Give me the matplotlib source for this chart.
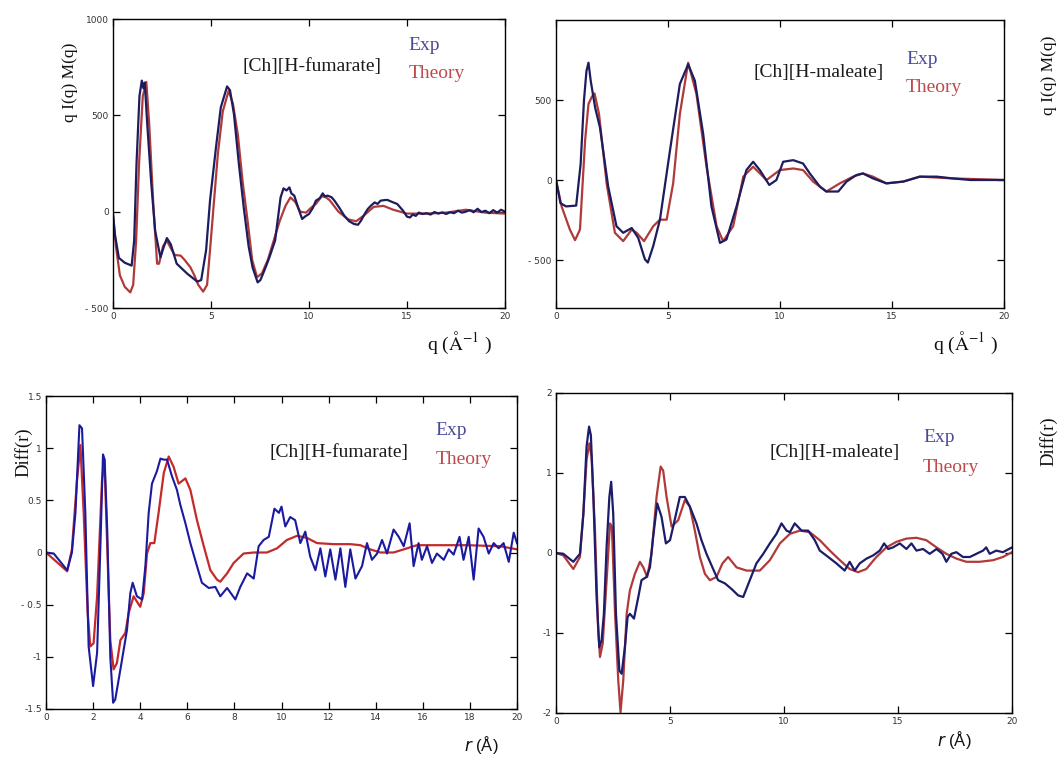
import matplotlib
matplotlib.use("Agg")
import matplotlib.pyplot as plt

# ---------------- data ----------------
# Top-left: [Ch][H-fumarate], q I(q) M(q)
tl_exp_q = [0, 0.1, 0.3, 0.6, 0.95, 1.08, 1.2, 1.35, 1.47, 1.55, 1.62, 1.75, 1.95, 2.15, 2.42, 2.6, 2.75, 2.95, 3.25, 3.8, 4.3, 4.5, 4.75, 4.95, 5.25, 5.5, 5.82, 5.97, 6.17, 6.42, 6.67, 6.92, 7.12, 7.38, 7.52, 7.72, 7.97, 8.27, 8.55, 8.7, 8.85, 9.0, 9.1, 9.25, 9.45, 9.65, 9.8, 10.0, 10.2, 10.35, 10.55, 10.7, 10.8, 10.95, 11.15, 11.3, 11.55, 11.8, 12.05, 12.3, 12.5, 12.65, 12.85, 13.0, 13.15, 13.35, 13.5, 13.65, 13.85, 14.0, 14.25, 14.5, 14.8, 15.0, 15.15, 15.3, 15.45, 15.6, 15.8, 16.0, 16.2, 16.4, 16.6, 16.8, 17.0, 17.2, 17.4, 17.6, 17.8, 18.0, 18.2, 18.4, 18.6, 18.8, 19.0, 19.2, 19.4, 19.6, 19.8, 20.0]
tl_exp_v = [-12, -120, -240, -265, -280, -150, 250, 600, 680, 640, 670, 450, 150, -100, -237, -180, -137, -170, -270, -323, -363, -355, -200, 57, 330, 541, 650, 630, 507, 250, 22, -180, -289, -367, -355, -306, -240, -150, 74, 121, 110, 126, 95, 83, 20, -38, -25, -12, 20, 57, 70, 95, 80, 83, 75, 57, 20, -21, -50, -64, -68, -47, -10, 14, 30, 48, 40, 57, 60, 61, 50, 40, 5, -26, -30, -15, -22, -5, -12, -8, -15, -2, -10, -4, -12, -3, -8, 5, -5, 0, 8, -3, 15, -2, 5, -8, 8, -5, 10, 0]
tl_th_q = [0, 0.15, 0.35, 0.6, 0.88, 1.03, 1.18, 1.33, 1.52, 1.7, 1.85, 2.05, 2.25, 2.35, 2.55, 2.75, 2.95, 3.15, 3.45, 3.65, 3.95, 4.15, 4.35, 4.6, 4.8, 4.95, 5.15, 5.35, 5.6, 5.9, 6.12, 6.37, 6.62, 6.87, 7.1, 7.35, 7.6, 7.9, 8.2, 8.5, 8.8, 9.05, 9.3, 9.55, 9.85, 10.1, 10.35, 10.65, 10.85, 11.05, 11.5, 12.0, 12.4, 12.8, 13.3, 13.8, 14.3, 15, 16, 17, 18, 19, 20]
tl_th_v = [-20, -180, -330, -390, -419, -380, -150, 250, 600, 673, 450, 50, -270, -270, -180, -150, -190, -225, -228, -250, -289, -330, -380, -415, -380, -200, 50, 300, 520, 628, 560, 400, 150, -50, -250, -340, -320, -250, -150, -50, 30, 74, 50, 0, -5, 20, 40, 80, 75, 60, 0, -40, -50, -20, 25, 30, 10, -10, -10, -5, 10, -5, -10]

# Top-right: [Ch][H-maleate], q I(q) M(q)
tr_exp_q = [0, 0.2, 0.45, 0.9, 1.1, 1.25, 1.36, 1.45, 1.55, 1.75, 1.96, 2.33, 2.7, 3.0, 3.38, 3.67, 3.97, 4.1, 4.34, 4.64, 5.09, 5.53, 5.9, 6.2, 6.57, 6.94, 7.32, 7.61, 8.06, 8.5, 8.8, 9.1, 9.52, 9.84, 10.14, 10.59, 11.03, 11.33, 11.78, 12.07, 12.6, 12.97, 13.41, 13.7, 14.15, 14.75, 15.5, 16.24, 17.0, 17.7, 18.5, 20]
tr_exp_v = [0, -145, -165, -160, 100, 500, 682, 733, 620, 450, 330, -41, -289, -330, -300, -362, -496, -516, -413, -248, 186, 600, 723, 620, 289, -165, -393, -372, -165, 62, 114, 62, -31, 0, 114, 124, 103, 41, -41, -72, -72, -10, 31, 41, 10, -21, -10, 21, 21, 10, 0, 0]
tr_th_q = [0, 0.25, 0.62, 0.85, 1.07, 1.3, 1.45, 1.6, 1.72, 1.92, 2.26, 2.63, 3.0, 3.38, 3.6, 3.93, 4.34, 4.64, 4.94, 5.23, 5.53, 5.9, 6.27, 6.72, 7.17, 7.46, 7.91, 8.36, 8.8, 9.4, 9.99, 10.59, 11.03, 11.48, 12.07, 12.67, 13.26, 13.7, 14.15, 14.75, 15.5, 16.24, 17.7, 20]
tr_th_v = [0, -165, -310, -376, -310, 248, 475, 520, 541, 413, -21, -330, -382, -310, -330, -382, -289, -248, -248, -21, 413, 733, 537, 83, -289, -382, -289, 21, 83, 0, 62, 72, 62, -10, -72, -21, 21, 41, 21, -21, -10, 21, 10, 0]

# Bottom-left: [Ch][H-fumarate], Diff(r)
bl_exp_r = [0, 0.33, 0.9, 1.1, 1.25, 1.42, 1.53, 1.67, 1.81, 2.0, 2.17, 2.31, 2.42, 2.49, 2.6, 2.73, 2.85, 2.94, 3.16, 3.44, 3.58, 3.68, 3.86, 4.08, 4.22, 4.36, 4.5, 4.71, 4.86, 5.0, 5.14, 5.35, 5.56, 5.7, 5.92, 6.13, 6.41, 6.62, 6.91, 7.19, 7.4, 7.69, 8.04, 8.25, 8.54, 8.82, 9.03, 9.24, 9.46, 9.7, 9.89, 10.0, 10.16, 10.37, 10.58, 10.8, 11.01, 11.22, 11.44, 11.65, 11.86, 12.07, 12.29, 12.5, 12.71, 12.92, 13.14, 13.42, 13.63, 13.84, 14.06, 14.27, 14.48, 14.76, 14.98, 15.19, 15.44, 15.61, 15.82, 15.96, 16.18, 16.39, 16.6, 16.89, 17.1, 17.31, 17.56, 17.73, 17.95, 18.16, 18.37, 18.58, 18.8, 19.01, 19.22, 19.43, 19.65, 19.86, 20]
bl_exp_d = [0, -0.01, -0.17, 0, 0.38, 1.22, 1.19, 0.38, -0.9, -1.28, -0.96, 0.06, 0.94, 0.89, 0.22, -1.0, -1.44, -1.41, -1.12, -0.74, -0.39, -0.29, -0.42, -0.45, -0.13, 0.38, 0.66, 0.78, 0.9, 0.89, 0.89, 0.73, 0.6, 0.46, 0.28, 0.09, -0.13, -0.29, -0.34, -0.33, -0.42, -0.34, -0.45, -0.33, -0.2, -0.25, 0.06, 0.12, 0.15, 0.42, 0.38, 0.44, 0.25, 0.34, 0.31, 0.09, 0.2, -0.04, -0.17, 0.04, -0.23, 0.03, -0.26, 0.04, -0.33, 0.03, -0.25, -0.13, 0.09, -0.07, -0.01, 0.12, -0.01, 0.22, 0.15, 0.06, 0.28, -0.13, 0.09, -0.07, 0.06, -0.1, -0.01, -0.07, 0.03, -0.02, 0.15, -0.07, 0.15, -0.26, 0.23, 0.15, -0.01, 0.09, 0.04, 0.09, -0.09, 0.19, 0.09]
bl_th_r = [0, 0.9, 1.1, 1.32, 1.46, 1.6, 1.77, 1.88, 2.02, 2.17, 2.38, 2.48, 2.6, 2.73, 2.87, 3.01, 3.16, 3.37, 3.51, 3.72, 4.0, 4.15, 4.29, 4.43, 4.6, 4.78, 5.0, 5.21, 5.42, 5.63, 5.92, 6.13, 6.41, 6.7, 6.98, 7.26, 7.4, 7.69, 7.97, 8.39, 8.82, 9.38, 9.81, 10.23, 10.66, 11.08, 11.51, 12.22, 12.92, 13.35, 13.77, 14.2, 14.76, 15.19, 15.75, 16.46, 17.88, 19.29, 20]
bl_th_d = [0, -0.18, 0.03, 0.7, 1.03, 0.38, -0.58, -0.9, -0.87, -0.42, 0.7, 0.89, 0.06, -0.84, -1.12, -1.06, -0.84, -0.77, -0.58, -0.42, -0.52, -0.39, -0.01, 0.09, 0.09, 0.38, 0.76, 0.92, 0.82, 0.66, 0.71, 0.6, 0.31, 0.06, -0.17, -0.26, -0.28, -0.2, -0.1, -0.01, 0, 0, 0.04, 0.12, 0.16, 0.14, 0.09, 0.08, 0.08, 0.07, 0.03, 0, 0, 0.03, 0.07, 0.07, 0.07, 0.06, 0.03]

# Bottom-right: [Ch][H-maleate], Diff(r)
br_exp_r = [0, 0.32, 0.76, 1.05, 1.2, 1.34, 1.45, 1.53, 1.64, 1.78, 1.9, 2.0, 2.1, 2.22, 2.34, 2.42, 2.51, 2.63, 2.78, 2.88, 3.02, 3.14, 3.24, 3.42, 3.61, 3.75, 3.97, 4.12, 4.26, 4.44, 4.63, 4.82, 5.0, 5.14, 5.43, 5.65, 5.87, 6.16, 6.38, 6.6, 6.86, 7.11, 7.41, 7.7, 7.99, 8.21, 8.5, 8.79, 9.09, 9.38, 9.67, 9.89, 10.11, 10.26, 10.47, 10.77, 11.06, 11.35, 11.57, 11.94, 12.3, 12.66, 12.88, 13.1, 13.32, 13.62, 13.91, 14.2, 14.39, 14.57, 14.78, 15.08, 15.37, 15.59, 15.81, 16.1, 16.39, 16.69, 16.95, 17.12, 17.34, 17.56, 17.85, 18.15, 18.44, 18.73, 18.87, 19.02, 19.31, 19.6, 20]
br_exp_d = [0, -0.01, -0.11, -0.01, 0.49, 1.33, 1.58, 1.47, 0.7, -0.55, -1.18, -1.09, -0.76, 0.08, 0.7, 0.89, 0.49, -0.76, -1.47, -1.51, -1.18, -0.8, -0.76, -0.82, -0.55, -0.34, -0.3, -0.18, 0.2, 0.62, 0.45, 0.12, 0.16, 0.33, 0.7, 0.7, 0.58, 0.37, 0.16, -0.01, -0.18, -0.34, -0.38, -0.45, -0.53, -0.55, -0.34, -0.13, -0.01, 0.12, 0.24, 0.37, 0.28, 0.26, 0.37, 0.28, 0.28, 0.16, 0.03, -0.05, -0.13, -0.22, -0.11, -0.22, -0.13, -0.07, -0.03, 0.03, 0.12, 0.05, 0.07, 0.12, 0.05, 0.12, 0.03, 0.05, -0.01, 0.05, -0.01, -0.11, -0.01, 0.01, -0.05, -0.05, -0.01, 0.03, 0.07, -0.01, 0.03, 0.01, 0.07]
br_th_r = [0, 0.32, 0.76, 1.05, 1.2, 1.34, 1.46, 1.56, 1.71, 1.85, 1.93, 2.05, 2.22, 2.37, 2.45, 2.59, 2.73, 2.83, 2.95, 3.1, 3.24, 3.46, 3.68, 3.83, 4.0, 4.19, 4.41, 4.59, 4.7, 4.85, 5.07, 5.36, 5.65, 5.87, 6.09, 6.31, 6.53, 6.75, 7.04, 7.3, 7.55, 7.92, 8.36, 8.94, 9.38, 9.82, 10.26, 10.7, 11.13, 11.57, 12.01, 12.45, 12.88, 13.25, 13.61, 14.05, 14.49, 14.93, 15.37, 15.81, 16.24, 16.69, 17.12, 17.56, 18.0, 18.58, 19.17, 19.6, 20]
br_th_d = [0, -0.03, -0.2, -0.05, 0.49, 1.16, 1.37, 1.2, 0.28, -0.97, -1.3, -1.13, -0.34, 0.37, 0.33, -0.76, -1.59, -1.99, -1.59, -0.76, -0.47, -0.26, -0.11, -0.18, -0.3, -0.01, 0.7, 1.08, 1.03, 0.7, 0.33, 0.41, 0.66, 0.58, 0.28, -0.05, -0.26, -0.34, -0.3, -0.13, -0.05, -0.18, -0.22, -0.22, -0.09, 0.12, 0.24, 0.28, 0.26, 0.16, 0.03, -0.09, -0.2, -0.24, -0.2, -0.05, 0.07, 0.14, 0.18, 0.19, 0.16, 0.07, -0.01, -0.07, -0.11, -0.11, -0.09, -0.05, 0.01]

# tick labels
tl_yticks = [-500, 0, 500, 1000]
tl_yticklabels = ['- 500', '0', '500', '1000']
tr_yticks = [-500, 0, 500]
tr_yticklabels = ['- 500', '0', '500']
q_xticks = [0, 5, 10, 15, 20]
bl_xticks = [0, 2, 4, 6, 8, 10, 12, 14, 16, 18, 20]
bl_yticks = [-1.5, -1, -0.5, 0, 0.5, 1, 1.5]
bl_yticklabels = ['-1.5', '-1', '- 0.5', '0', '0.5', '1', '1.5']
br_xticks = [0, 5, 10, 15, 20]
br_yticks = [-2, -1, 0, 1, 2]
br_yticklabels = ['-2', '-1', '0', '1', '2']

titles = ['[Ch][H-fumarate]', '[Ch][H-maleate]', '[Ch][H-fumarate]', '[Ch][H-maleate]']

# ---------------- figure ----------------
W, H = 1059, 762
fig = plt.figure(figsize=(W / 100, H / 100), dpi=100)
fig.patch.set_facecolor('white')

def px_axes(left, top, right, bottom):
    return fig.add_axes([left / W, 1 - bottom / H, (right - left) / W, (bottom - top) / H])

def style(ax, xt, yt, ytl, xlim, ylim):
    ax.set_xlim(*xlim)
    ax.set_ylim(*ylim)
    ax.set_xticks(xt)
    ax.set_xticklabels([str(v) for v in xt])
    ax.set_yticks(yt)
    ax.set_yticklabels(ytl)
    ax.tick_params(direction='in', top=True, right=True, length=5, width=0.9,
                   labelsize=6.5, labelcolor='#333333', pad=3)
    for s in ax.spines.values():
        s.set_linewidth(1.0)
        s.set_color('black')

serif = 'Liberation Serif'
EXP_TXT = '#4a4a9a'
TH_TXT = '#bf4a4a'

def ftext(x, y, s, **kw):
    fig.text(x / W, 1 - y / H, s, **kw)

# Top-left
ax1 = px_axes(113, 19, 505, 308)
ax1.plot(tl_th_q, tl_th_v, color='#b03a3a', lw=1.6)
ax1.plot(tl_exp_q, tl_exp_v, color='#1c1c5e', lw=1.6)
style(ax1, q_xticks, tl_yticks, tl_yticklabels, (0, 20), (-500, 1000))

# Top-right
ax2 = px_axes(556, 20, 1004, 308)
ax2.plot(tr_th_q, tr_th_v, color='#b03a3a', lw=1.6)
ax2.plot(tr_exp_q, tr_exp_v, color='#1c1c5e', lw=1.6)
style(ax2, q_xticks, tr_yticks, tr_yticklabels, (0, 20), (-800, 1000))

# Bottom-left
ax3 = px_axes(46, 396, 517, 709)
ax3.plot(bl_th_r, bl_th_d, color='#c42a2a', lw=1.6)
ax3.plot(bl_exp_r, bl_exp_d, color='#1a1aa0', lw=1.5)
style(ax3, bl_xticks, bl_yticks, bl_yticklabels, (0, 20), (-1.5, 1.5))

# Bottom-right
ax4 = px_axes(556, 393, 1012, 713)
ax4.plot(br_th_r, br_th_d, color='#b03a3a', lw=1.6)
ax4.plot(br_exp_r, br_exp_d, color='#1c1c6a', lw=1.6)
style(ax4, br_xticks, br_yticks, br_yticklabels, (0, 20), (-2, 2))

# annotations
ftext(312, 67, titles[0], fontsize=14, family=serif, color='#1a1a1a', ha='center', va='center')
ftext(408, 45, 'Exp', fontsize=14, family=serif, color=EXP_TXT, ha='left', va='center')
ftext(409, 73, 'Theory', fontsize=14, family=serif, color=TH_TXT, ha='left', va='center')

ftext(819, 72, titles[1], fontsize=14, family=serif, color='#1a1a1a', ha='center', va='center')
ftext(906, 60, 'Exp', fontsize=14, family=serif, color=EXP_TXT, ha='left', va='center')
ftext(906, 88, 'Theory', fontsize=14, family=serif, color=TH_TXT, ha='left', va='center')

ftext(339, 452, titles[2], fontsize=14, family=serif, color='#1a1a1a', ha='center', va='center')
ftext(435, 431, 'Exp', fontsize=14, family=serif, color=EXP_TXT, ha='left', va='center')
ftext(436, 460, 'Theory', fontsize=14, family=serif, color=TH_TXT, ha='left', va='center')

ftext(835, 452, titles[3], fontsize=14, family=serif, color='#1a1a1a', ha='center', va='center')
ftext(923, 438, 'Exp', fontsize=14, family=serif, color=EXP_TXT, ha='left', va='center')
ftext(923, 467, 'Theory', fontsize=14, family=serif, color=TH_TXT, ha='left', va='center')

# axis labels
ftext(70, 82, 'q I(q) M(q)', fontsize=12.5, family=serif, rotation=90, ha='center', va='center', color='#111111')
ftext(1049, 75, 'q I(q) M(q)', fontsize=12.5, family=serif, rotation=90, ha='center', va='center', color='#111111')
ftext(23, 452, 'Diff(r)', fontsize=13.5, family=serif, rotation=90, ha='center', va='center', color='#111111')
ftext(1048, 441, 'Diff(r)', fontsize=13.5, family=serif, rotation=90, ha='center', va='center', color='#111111')

qlab = 'q (' + r'$\mathrm{\AA}^{-1}$' + ' )'
ftext(460, 343, qlab, fontsize=14, family=serif, math_fontfamily='stix', ha='center', va='center', color='#111111')
ftext(966, 343, qlab, fontsize=14, family=serif, math_fontfamily='stix', ha='center', va='center', color='#111111')

rlab = r'$\mathit{r}$ (Å)'
ftext(481, 745, rlab, fontsize=12, family='Liberation Sans', math_fontfamily='dejavusans', ha='center', va='center', color='#111111')
ftext(954, 740, rlab, fontsize=12, family='Liberation Sans', math_fontfamily='dejavusans', ha='center', va='center', color='#111111')

fig.savefig('out.png', dpi=100, facecolor='white')
